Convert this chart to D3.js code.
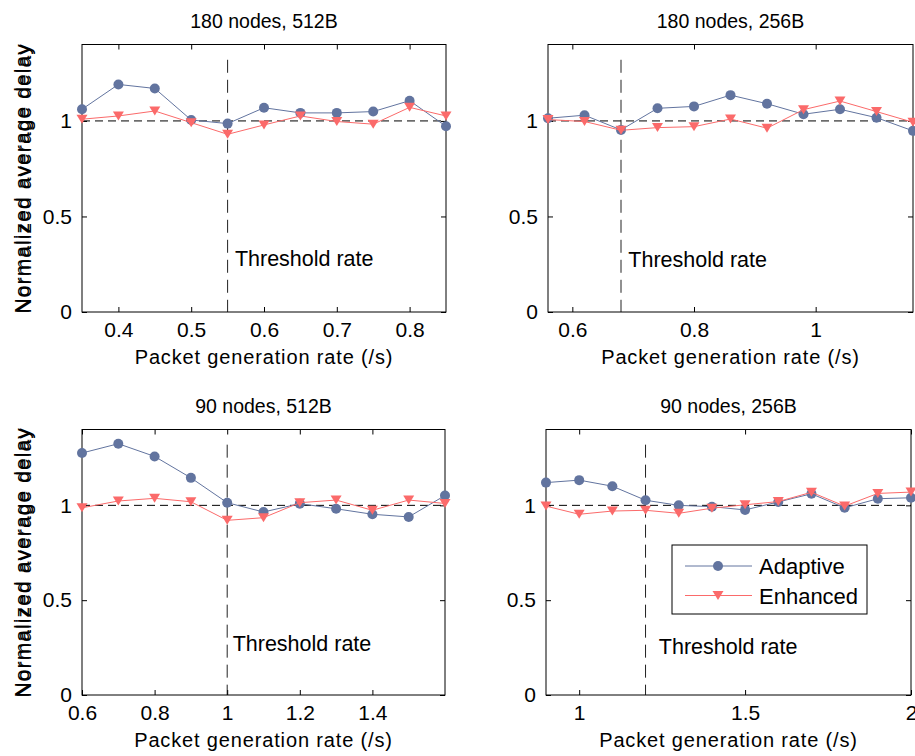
<!DOCTYPE html>
<html>
<head>
<meta charset="utf-8">
<script src="https://cdn.jsdelivr.net/npm/d3@7"></script>
<style>
  body { margin: 0; background: #fff; }
  svg { font-family: "Liberation Sans", Arial, Helvetica, sans-serif; }
</style>
</head>
<body>
<svg id="chart" width="915" height="756"></svg>
<script>
// dados
const rate180_512 = [0.35, 0.40, 0.45, 0.50, 0.55, 0.60, 0.65, 0.70, 0.75, 0.80, 0.85];
const adaptive180_512 = [1.061, 1.191, 1.170, 1.005, 0.986, 1.069, 1.042, 1.042, 1.049, 1.106, 0.972];
const enhanced180_512 = [1.009, 1.026, 1.052, 0.991, 0.930, 0.979, 1.026, 0.997, 0.983, 1.071, 1.026];

const rate180_256 = [0.56, 0.62, 0.68, 0.74, 0.80, 0.86, 0.92, 0.98, 1.04, 1.10, 1.16];
const adaptive180_256 = [1.014, 1.030, 0.953, 1.066, 1.076, 1.135, 1.090, 1.035, 1.061, 1.017, 0.948];
const enhanced180_256 = [1.007, 0.997, 0.951, 0.965, 0.970, 1.010, 0.962, 1.059, 1.104, 1.049, 0.993];

const rate90_512 = [0.6, 0.7, 0.8, 0.9, 1.0, 1.1, 1.2, 1.3, 1.4, 1.5, 1.6];
const adaptive90_512 = [1.276, 1.325, 1.258, 1.145, 1.014, 0.965, 1.009, 0.982, 0.953, 0.939, 1.052];
const enhanced90_512 = [0.987, 1.023, 1.037, 1.019, 0.921, 0.935, 1.014, 1.028, 0.974, 1.028, 1.010];

const rate90_256 = [0.9, 1.0, 1.1, 1.2, 1.3, 1.4, 1.5, 1.6, 1.7, 1.8, 1.9, 2.0];
const adaptive90_256 = [1.120, 1.133, 1.101, 1.027, 1.000, 0.993, 0.976, 1.018, 1.061, 0.987, 1.035, 1.040];
const enhanced90_256 = [0.996, 0.953, 0.970, 0.974, 0.958, 0.985, 1.003, 1.020, 1.069, 0.996, 1.063, 1.070];

const titles = ["180 nodes, 512B", "180 nodes, 256B", "90 nodes, 512B", "90 nodes, 256B"];
const thresholds = [0.55, 0.68, 1.0, 1.2];
const xDomains = [[0.35, 0.85], [0.56, 1.16], [0.6, 1.6], [0.9, 2.0]];
const xTicks = [[0.4, 0.5, 0.6, 0.7, 0.8], [0.6, 0.8, 1.0], [0.6, 0.8, 1.0, 1.2, 1.4], [1.0, 1.5, 2.0]];
const yTicks = [0, 0.5, 1];
const seriesNames = ["Adaptive", "Enhanced"];
// posição do texto "Threshold rate" em unidades dos dados
const thresholdLabelAt = [[0.56, 0.24], [0.692, 0.235], [1.015, 0.23], [1.24, 0.215]];

const colors = { Adaptive: "#62749f", Enhanced: "#fb6a6a" };

const svg = d3.select("#chart");

// caixas de cada painel (em pixels)
const boxes = [
    { left: 82, right: 446, top: 44.5, bottom: 312 },
    { left: 548, right: 913, top: 44.5, bottom: 312 },
    { left: 82, right: 445, top: 429.5, bottom: 695 },
    { left: 546, right: 911, top: 429.5, bottom: 695 }
];

const panels = [
    { x: rate180_512, a: adaptive180_512, e: enhanced180_512 },
    { x: rate180_256, a: adaptive180_256, e: enhanced180_256 },
    { x: rate90_512, a: adaptive90_512, e: enhanced90_512 },
    { x: rate90_256, a: adaptive90_256, e: enhanced90_256 }
];

const triangle = "M-5.5,-4.5L5.5,-4.5L0,4.5Z";
const fmt = d => String(+d.toFixed(2));

panels.forEach((p, i) => {
    const b = boxes[i];
    const w = b.right - b.left, h = b.bottom - b.top;
    const x = d3.scaleLinear().domain(xDomains[i]).range([0, w]);
    const y = d3.scaleLinear().domain([0, 1.4]).range([h, 0]);

    const g = svg.append("g").attr("transform", `translate(${b.left},${b.top})`);

    // linha horizontal tracejada em 1
    g.append("line")
        .attr("x1", 0).attr("x2", w)
        .attr("y1", y(1)).attr("y2", y(1))
        .attr("stroke", "#000").attr("stroke-width", 1)
        .attr("stroke-dasharray", "8,5");

    // linha vertical do limiar
    g.append("line")
        .attr("x1", x(thresholds[i])).attr("x2", x(thresholds[i]))
        .attr("y1", y(1.32)).attr("y2", y(0))
        .attr("stroke", "#222").attr("stroke-width", 1)
        .attr("stroke-dasharray", "13,7");

    g.append("text")
        .attr("x", x(thresholdLabelAt[i][0]))
        .attr("y", y(thresholdLabelAt[i][1]))
        .attr("font-size", "21.5px")
        .text("Threshold rate");

    // eixos com ticks para dentro
    const axB = d3.axisBottom(x).tickValues(xTicks[i]).tickSize(-5).tickFormat(fmt).tickPadding(10);
    const axT = d3.axisTop(x).tickValues(xTicks[i]).tickSize(-5).tickFormat("");
    const axL = d3.axisLeft(y).tickValues(yTicks).tickSize(-5).tickFormat(fmt).tickPadding(10);
    const axR = d3.axisRight(y).tickValues(yTicks).tickSize(-5).tickFormat("");

    const styleAxis = sel => {
        sel.select(".domain").remove();
        sel.selectAll("line").attr("stroke", "#000");
        sel.selectAll("text").attr("font-size", "21px").attr("fill", "#000")
            .attr("font-family", "Liberation Sans, Arial, sans-serif");
    };
    g.append("g").attr("transform", `translate(0,${h})`).call(axB).call(styleAxis);
    g.append("g").call(axT).call(styleAxis);
    g.append("g").call(axL).call(styleAxis);
    g.append("g").attr("transform", `translate(${w},0)`).call(axR).call(styleAxis);

    g.append("rect")
        .attr("width", w).attr("height", h)
        .attr("fill", "none").attr("stroke", "#000").attr("stroke-width", 1);

    // séries
    const series = [
        { name: "Adaptive", values: p.a },
        { name: "Enhanced", values: p.e }
    ];
    const line = d3.line().x(d => x(d[0])).y(d => y(d[1]));
    series.forEach(s => {
        const pts = p.x.map((v, k) => [v, s.values[k]]);
        g.append("path")
            .datum(pts)
            .attr("d", line)
            .attr("fill", "none")
            .attr("stroke", colors[s.name])
            .attr("stroke-width", 1);
        if (s.name === "Adaptive") {
            g.selectAll(null).data(pts).enter().append("circle")
                .attr("cx", d => x(d[0])).attr("cy", d => y(d[1]))
                .attr("r", 5).attr("fill", colors[s.name]);
        } else {
            g.selectAll(null).data(pts).enter().append("path")
                .attr("d", triangle)
                .attr("transform", d => `translate(${x(d[0])},${y(d[1])})`)
                .attr("fill", colors[s.name]);
        }
    });

    // títulos e rótulos
    g.append("text")
        .attr("x", w / 2).attr("y", -17)
        .attr("text-anchor", "middle")
        .attr("font-size", "19.5px")
        .text(titles[i]);

    g.append("text")
        .attr("x", w / 2).attr("y", h + 52)
        .attr("text-anchor", "middle")
        .attr("font-size", "20px")
        .attr("letter-spacing", "0.85px")
        .text("Packet generation rate (/s)");

    g.append("text")
        .attr("transform", `translate(${-b.left + (i % 2 === 0 ? 29 : 497 - 466)},${h / 2}) rotate(-90)`)
        .attr("text-anchor", "middle")
        .attr("font-size", "21px")
        .attr("letter-spacing", "1.1px")
        .text("Normalized average delay");

    // legenda no último painel
    if (i === 3) {
        const lg = g.append("g").attr("transform", `translate(${672 - b.left},${545 - b.top})`);
        lg.append("rect").attr("width", 195).attr("height", 69)
            .attr("fill", "#fff").attr("stroke", "#000").attr("stroke-width", 1);
        seriesNames.forEach((n, k) => {
            const ry = 21 + k * 29.5;
            lg.append("line").attr("x1", 13).attr("x2", 80).attr("y1", ry).attr("y2", ry)
                .attr("stroke", colors[n]).attr("stroke-width", 1);
            if (n === "Adaptive") {
                lg.append("circle").attr("cx", 46).attr("cy", ry).attr("r", 5).attr("fill", colors[n]);
            } else {
                lg.append("path").attr("d", triangle)
                    .attr("transform", `translate(46,${ry})`).attr("fill", colors[n]);
            }
            lg.append("text").attr("x", 87).attr("y", ry + 8)
                .attr("font-size", "22px").text(n);
        });
    }
});
</script>
</body>
</html>
